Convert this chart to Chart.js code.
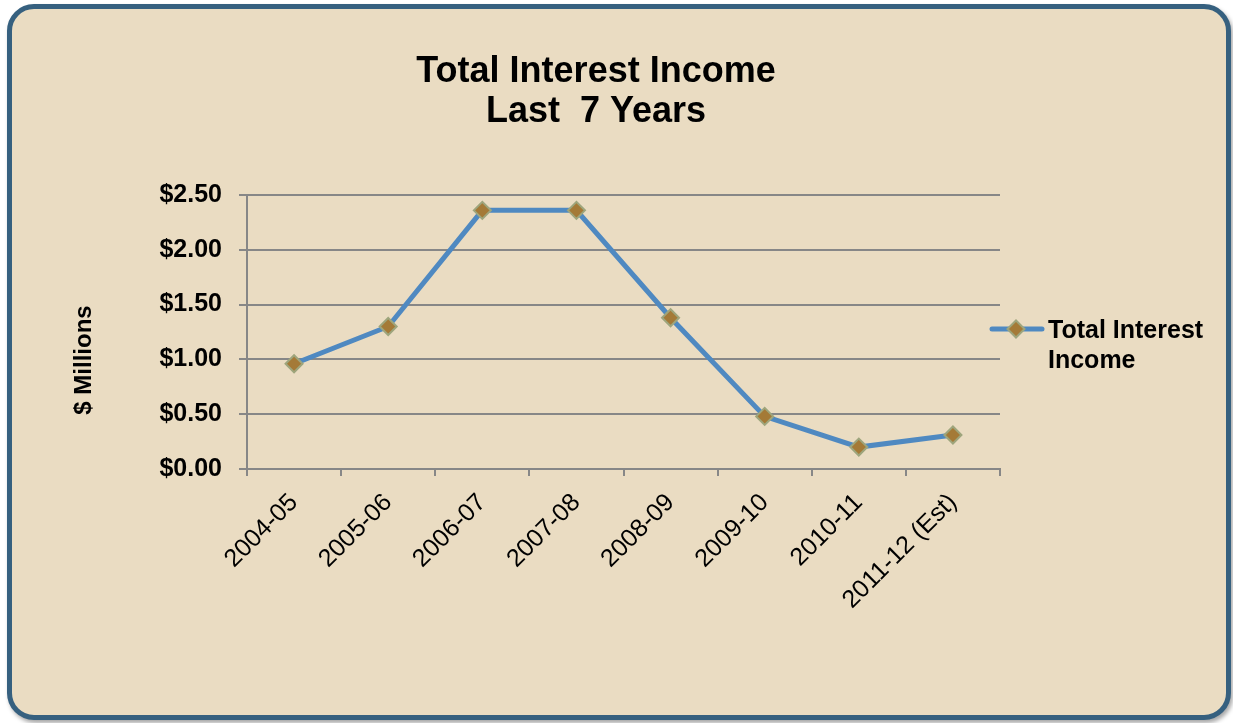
<!DOCTYPE html>
<html>
<head>
<meta charset="utf-8">
<title>Total Interest Income</title>
<script src="https://cdn.jsdelivr.net/npm/chart.js@4/dist/chart.umd.min.js"></script>
<style>
  html, body { margin: 0; padding: 0; background: #ffffff; }
  body { width: 1233px; height: 723px; position: relative; overflow: hidden; }
  .panel {
    position: absolute; left: 7px; top: 4px; width: 1224px; height: 716px;
    box-sizing: border-box; border: 5px solid #36607f; border-radius: 27px;
    background: #eadcc2; box-shadow: 2px 3px 4px rgba(0, 0, 0, 0.35);
  }
  #incomeChart { position: absolute; left: 0; top: 0; }
</style>
</head>
<body>
<div class="panel"></div>
<canvas id="incomeChart" width="1233" height="723"></canvas>
<script>
// fiscal years and interest income ($ millions)
var years = ['2004-05', '2005-06', '2006-07', '2007-08', '2008-09', '2009-10', '2010-11', '2011-12 (Est)'];
var income = [0.96, 1.30, 2.36, 2.36, 1.38, 0.48, 0.20, 0.31];
var seriesName = 'Total Interest Income';
var titleLines = ['Total Interest Income', 'Last  7 Years'];
var yTitle = '$ Millions';
var yTicks = { min: 0, max: 2.5, step: 0.5 };

var FONT = '"Liberation Sans", Arial, sans-serif';
var LINE_COLOR = '#4f89c1';
var POINT_FILL = '#a47a37';
var POINT_EDGE = '#9ea57c';
var GRID = '#878787';

Chart.defaults.font.family = FONT;
Chart.defaults.color = '#000';

// title, rotated axis title and the two-line legend are drawn by hand
var decorations = {
  id: 'decorations',
  afterDraw: function(chart) {
    var ctx = chart.ctx;
    ctx.save();
    ctx.fillStyle = '#000';
    ctx.textAlign = 'center';
    ctx.textBaseline = 'alphabetic';
    ctx.font = 'bold 36px ' + FONT;
    ctx.fillText(titleLines[0], 596, 82);
    ctx.fillText(titleLines[1], 596, 122);

    ctx.save();
    ctx.translate(84, 360);
    ctx.rotate(-Math.PI / 2);
    ctx.font = 'bold 24px ' + FONT;
    ctx.textBaseline = 'middle';
    ctx.fillText(yTitle, 0, 0);
    ctx.restore();

    // legend sample: line with a diamond marker
    ctx.strokeStyle = LINE_COLOR;
    ctx.lineWidth = 5;
    ctx.lineCap = 'round';
    ctx.beginPath();
    ctx.moveTo(992, 329);
    ctx.lineTo(1042, 329);
    ctx.stroke();
    ctx.fillStyle = POINT_FILL;
    ctx.strokeStyle = POINT_EDGE;
    ctx.lineWidth = 2;
    Chart.helpers.drawPoint(ctx, { pointStyle: 'rectRot', radius: 8.5, borderWidth: 2 }, 1016, 329);

    var words = seriesName.split(' ');
    ctx.fillStyle = '#000';
    ctx.textAlign = 'left';
    ctx.font = 'bold 25px ' + FONT;
    ctx.fillText(words[0] + ' ' + words[1], 1048, 338);
    ctx.fillText(words[2], 1048, 368);
    ctx.restore();
  }
};

var ctx = document.getElementById('incomeChart');
var incomeChart = new Chart(ctx, {
  type: 'line',
  data: {
    labels: years,
    datasets: [{
      label: seriesName,
      data: income,
      borderColor: LINE_COLOR,
      borderWidth: 5,
      tension: 0,
      pointStyle: 'rectRot',
      pointRadius: 8.5,
      pointBorderWidth: 2,
      pointBackgroundColor: POINT_FILL,
      pointBorderColor: POINT_EDGE
    }]
  },
  options: {
    responsive: false,
    animation: false,
    layout: { padding: { left: 100, top: 195, right: 233, bottom: 0 } },
    plugins: {
      legend: { display: false },
      title: { display: false },
      tooltip: { enabled: false }
    },
    scales: {
      x: {
        offset: true,
        grid: { drawOnChartArea: false, offset: true, tickLength: 7, color: GRID, lineWidth: 2 },
        border: { color: GRID, width: 2 },
        ticks: {
          autoSkip: false,
          minRotation: 45,
          maxRotation: 45,
          padding: 12,
          color: '#000',
          font: { size: 25 }
        },
        afterFit: function(scale) { scale.height = 254; }
      },
      y: {
        min: yTicks.min,
        max: yTicks.max,
        grid: { color: GRID, lineWidth: 2, tickLength: 8 },
        border: { color: GRID, width: 2 },
        ticks: {
          stepSize: yTicks.step,
          padding: 17,
          color: '#000',
          font: { size: 25, weight: 'bold' },
          callback: function(v) { return '$' + v.toFixed(2); }
        },
        afterFit: function(scale) { scale.width = 147; }
      }
    }
  },
  plugins: [decorations]
});
</script>
</body>
</html>
